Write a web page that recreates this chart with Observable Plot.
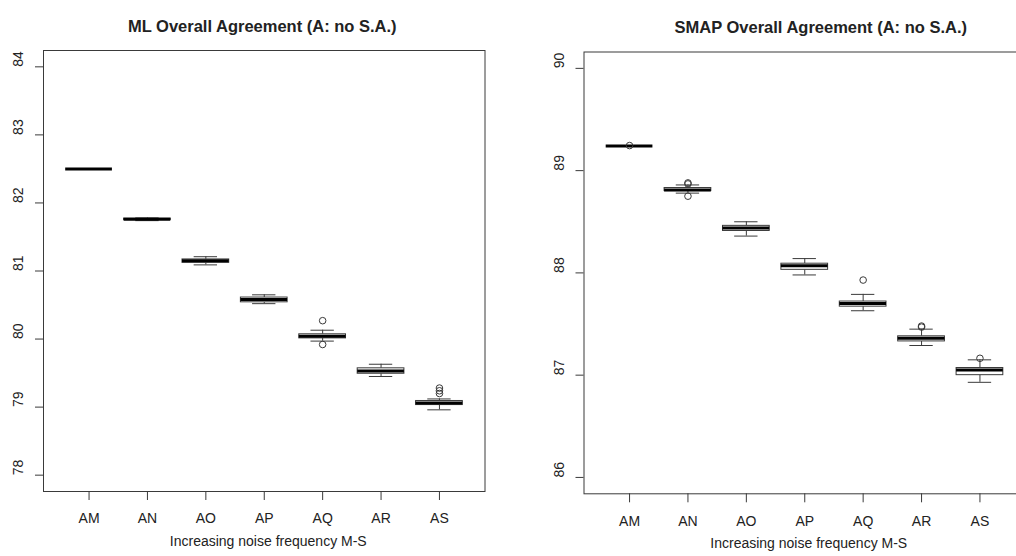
<!DOCTYPE html>
<html>
<head>
<meta charset="utf-8">
<script src="https://cdn.jsdelivr.net/npm/d3@7"></script>
<script src="https://cdn.jsdelivr.net/npm/@observablehq/plot@0.6"></script>
<style>
  html, body { margin: 0; padding: 0; background: #fff; }
  body { width: 1016px; height: 556px; overflow: hidden; position: relative; }
  .panel { position: absolute; top: 0; width: 508px; height: 556px; }
  .panel svg { max-width: none !important; width: 508px !important; height: 556px !important; }
</style>
</head>
<body>
<div id="left" class="panel" style="left:0px"></div>
<div id="right" class="panel" style="left:540px"></div>
<script>
// ---- Data ----
const categories = ["AM", "AN", "AO", "AP", "AQ", "AR", "AS"];

// ML Overall Agreement
const mlLow    = [82.50, 81.74, 81.09, 80.52, 79.97, 79.45, 78.96];
const mlQ1     = [82.50, 81.75, 81.12, 80.54, 80.01, 79.49, 79.03];
const mlMedian = [82.50, 81.76, 81.15, 80.58, 80.04, 79.53, 79.06];
const mlQ3     = [82.50, 81.77, 81.17, 80.61, 80.07, 79.57, 79.09];
const mlHigh   = [82.50, 81.78, 81.21, 80.65, 80.13, 79.63, 79.12];
const mlOutlierCat = ["AQ", "AQ", "AS", "AS", "AS"];
const mlOutlierVal = [80.27, 79.92, 79.28, 79.24, 79.20];
const mlYTicks = [78, 79, 80, 81, 82, 83, 84];

// SMAP Overall Agreement
const smLow    = [89.24, 88.78, 88.36, 87.98, 87.63, 87.29, 86.93];
const smQ1     = [89.24, 88.80, 88.41, 88.03, 87.67, 87.33, 87.00];
const smMedian = [89.24, 88.81, 88.44, 88.07, 87.70, 87.36, 87.05];
const smQ3     = [89.24, 88.83, 88.46, 88.09, 87.72, 87.38, 87.07];
const smHigh   = [89.24, 88.86, 88.50, 88.14, 87.79, 87.45, 87.15];
const smOutlierCat = ["AM", "AN", "AN", "AN", "AQ", "AR", "AR", "AS"];
const smOutlierVal = [89.245, 88.88, 88.87, 88.75, 87.93, 87.48, 87.47, 87.165];
const smYTicks = [86, 87, 88, 89, 90];

const xLabel = "Increasing noise frequency M-S";
const FONT = "'Liberation Sans', Arial, Helvetica, sans-serif";
const INK = "#222";
const LINE = "#3a3a3a";

function panel({title, low, q1, med, q3, high, outCat, outVal, yTicks, yDomain,
                marginLeft, marginRight, marginTop, marginBottom, titleDx}) {
  const boxes = categories.map((c, i) => ({
    cat: c, x: i + 1, low: low[i], q1: q1[i], med: med[i], q3: q3[i], high: high[i]
  }));
  const outliers = outCat.map((c, i) => ({x: categories.indexOf(c) + 1, v: outVal[i]}));
  const hw = 0.4, cw = 0.2;
  return Plot.plot({
    width: 508,
    height: 556,
    marginLeft, marginRight, marginTop, marginBottom,
    style: {fontFamily: FONT, fontSize: "14px", color: INK, background: "transparent", maxWidth: "none"},
    x: {domain: [0.22, 7.78], axis: null},
    y: {domain: yDomain, axis: null},
    marks: [
      Plot.frame({stroke: LINE, strokeWidth: 1}),
      // whiskers
      Plot.ruleX(boxes, {x: "x", y1: "low", y2: "q1", stroke: LINE, strokeWidth: 1}),
      Plot.ruleX(boxes, {x: "x", y1: "q3", y2: "high", stroke: LINE, strokeWidth: 1}),
      // caps
      Plot.ruleY(boxes, {y: "low", x1: d => d.x - cw, x2: d => d.x + cw, stroke: LINE, strokeWidth: 1}),
      Plot.ruleY(boxes, {y: "high", x1: d => d.x - cw, x2: d => d.x + cw, stroke: LINE, strokeWidth: 1}),
      // boxes
      Plot.rect(boxes, {x1: d => d.x - hw, x2: d => d.x + hw, y1: "q1", y2: "q3",
                        fill: "white", stroke: LINE, strokeWidth: 1}),
      // medians
      Plot.ruleY(boxes, {y: "med", x1: d => d.x - hw, x2: d => d.x + hw, stroke: "#000", strokeWidth: 3}),
      // outliers
      Plot.dot(outliers, {x: "x", y: "v", r: 3.3, stroke: LINE, strokeWidth: 1, fill: "none"}),
      // axes
      Plot.axisX({ticks: categories.map((c, i) => i + 1), tickFormat: i => categories[i - 1],
                  tickSize: 9, tickPadding: 13, label: null, stroke: LINE, fill: INK}),
      Plot.axisY({ticks: yTicks, tickSize: 8, tickFormat: () => "", label: null, stroke: LINE}),
      Plot.text(yTicks, {y: d => d, text: d => String(d), frameAnchor: "left", dx: -24.5,
                         rotate: -90, fill: INK, fontSize: 14}),
      // axis title
      Plot.text([xLabel], {frameAnchor: "bottom", dy: 54.4, dx: 4, fill: INK, fontSize: 14}),
      // panel title
      Plot.text([title], {frameAnchor: "top", dy: -30.5, dx: titleDx, fill: INK,
                          fontSize: 16.5, fontWeight: "bold"})
    ]
  });
}

document.getElementById("left").append(panel({
  title: "ML Overall Agreement (A: no S.A.)",
  low: mlLow, q1: mlQ1, med: mlMedian, q3: mlQ3, high: mlHigh,
  outCat: mlOutlierCat, outVal: mlOutlierVal, yTicks: mlYTicks,
  yDomain: [77.76, 84.24],
  marginLeft: 43, marginRight: 23.5, marginTop: 50, marginBottom: 65, titleDx: -2
}));

document.getElementById("right").append(panel({
  title: "SMAP Overall Agreement (A: no S.A.)",
  low: smLow, q1: smQ1, med: smMedian, q3: smQ3, high: smHigh,
  outCat: smOutlierCat, outVal: smOutlierVal, yTicks: smYTicks,
  yDomain: [85.84, 90.16],
  marginLeft: 43.5, marginRight: 23, marginTop: 51.5, marginBottom: 62.7, titleDx: 16
}));
</script>
</body>
</html>
